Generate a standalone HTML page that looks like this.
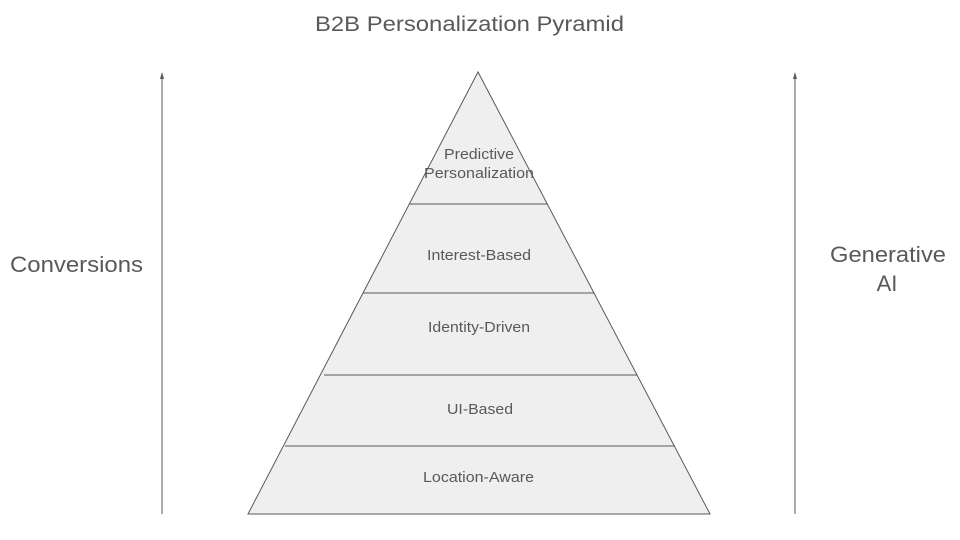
<!DOCTYPE html>
<html><head><meta charset="utf-8"><style>
html,body{margin:0;padding:0;background:#fff;}
svg{display:block;font-family:"Liberation Sans",Arial,sans-serif;}
</style></head><body>
<svg width="960" height="540" viewBox="0 0 960 540" xmlns="http://www.w3.org/2000/svg">
<text x="315" y="31" font-size="21" fill="#595959" textLength="309" lengthAdjust="spacingAndGlyphs">B2B Personalization Pyramid</text>
<polygon points="478,72 248,514 710,514" fill="#efefef" stroke="#595959" stroke-width="1"/>
<g stroke="#595959" stroke-width="1">
<line x1="409" y1="204" x2="548" y2="204"/>
<line x1="363" y1="293" x2="594" y2="293"/>
<line x1="324" y1="375" x2="637" y2="375"/>
<line x1="285" y1="446" x2="675" y2="446"/>
<line x1="162" y1="514" x2="162" y2="78"/>
<line x1="795" y1="514" x2="795" y2="78"/>
</g>
<polygon points="162,72 160,79 164,79" fill="#595959"/>
<polygon points="795,72 793,79 797,79" fill="#595959"/>
<g font-size="15" fill="#595959">
<text x="444" y="159" textLength="70" lengthAdjust="spacingAndGlyphs">Predictive</text>
<text x="424" y="178" textLength="110" lengthAdjust="spacingAndGlyphs">Personalization</text>
<text x="427" y="260" textLength="104" lengthAdjust="spacingAndGlyphs">Interest-Based</text>
<text x="428" y="332" textLength="102" lengthAdjust="spacingAndGlyphs">Identity-Driven</text>
<text x="447" y="414" textLength="66" lengthAdjust="spacingAndGlyphs">UI-Based</text>
<text x="423" y="482" textLength="111" lengthAdjust="spacingAndGlyphs">Location-Aware</text>
</g>
<text x="10" y="272" font-size="22" fill="#595959" textLength="133" lengthAdjust="spacingAndGlyphs">Conversions</text>
<text x="830" y="262" font-size="22" fill="#595959" textLength="116" lengthAdjust="spacingAndGlyphs">Generative</text>
<text x="887" y="291" font-size="22" fill="#595959" text-anchor="middle">AI</text>
</svg>
</body></html>
